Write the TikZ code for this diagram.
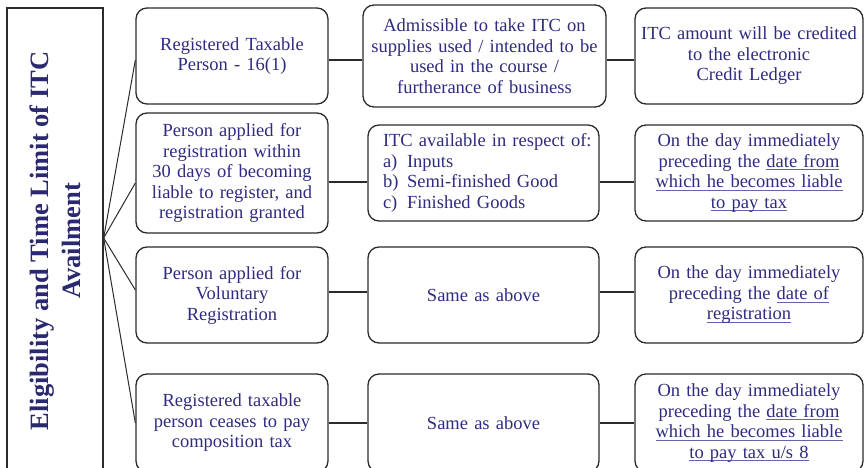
\documentclass[tikz,border=0pt]{standalone}
\usepackage{fontspec}
\setmainfont{Liberation Serif}
\definecolor{txt}{HTML}{2E2B80}
\definecolor{ttl}{HTML}{2A2870}
\definecolor{ulc}{HTML}{6464AA}
\definecolor{edge}{HTML}{2B2B2B}
\newcommand\myul[1]{\setbox0=\hbox{#1}\leavevmode\rlap{\color{ulc}\rule[-3pt]{\wd0}{0.8pt}}\box0}
\newcommand\itm[1]{\hspace*{7.5pt}\makebox[24pt][l]{#1}}
\begin{document}
\begin{tikzpicture}[x=1pt,y=-1pt,
  box/.style={draw=edge,line width=1.3pt,rounded corners=11pt,text=txt,
    font=\fontsize{18.5}{20.5}\selectfont,align=center,inner sep=0pt},
  conn/.style={draw=edge,line width=1.2pt},
  fan/.style={draw=edge,line width=1pt}]
\useasboundingbox (0,0) rectangle (864,468);
% left title box
\node[draw=edge,line width=1.3pt,minimum width=96pt,minimum height=466pt,inner sep=0pt] (left) at (55,241) {};
\node[rotate=90,text=ttl,font=\bfseries\fontsize{26.5}{32}\selectfont,align=center] (title) at (left.center) {Eligibility and Time Limit of ITC\\Availment};
% column 1
\node[box,minimum width=192pt,minimum height=96pt,text width=182pt] (r1c1) at (232,56) {Registered Taxable\\Person - 16(1)};
\node[box,minimum width=192pt,minimum height=120pt,text width=182pt] (r2c1) at (232,173) {Person applied for\\registration within\\30 days of becoming\\liable to register, and\\registration granted};
\node[box,minimum width=192pt,minimum height=96pt,text width=182pt] (r3c1) at (232,295) {Person applied for\\Voluntary\\Registration};
\node[box,minimum width=192pt,minimum height=98pt,text width=182pt] (r4c1) at (232,423) {Registered taxable\\person ceases to pay\\composition tax};
% column 2
\node[box,minimum width=243pt,minimum height=102pt,text width=233pt] (r1c2) at (484.5,56) {Admissible to take ITC on\\supplies used / intended to be\\used in the course /\\furtherance of business};
\node[box,align=left,text width=216pt,minimum width=231pt,minimum height=96pt,inner xsep=7.5pt] (r2c2) at (483.5,173) {\hspace*{7.5pt}\mbox{ITC available in respect of:}\\\itm{a)}Inputs\\\itm{b)}Semi-finished Good\\\itm{c)}Finished Goods};
\node[box,minimum width=231pt,minimum height=96pt,text width=221pt] (r3c2) at (483.5,295) {Same as above};
\node[box,minimum width=231pt,minimum height=98pt,text width=221pt] (r4c2) at (483.5,423) {Same as above};
% column 3
\node[box,minimum width=228pt,minimum height=96pt,text width=218pt] (r1c3) at (749,56) {ITC amount will be credited\\to the electronic\\Credit Ledger};
\node[box,minimum width=228pt,minimum height=96pt,text width=218pt] (r2c3) at (749,173) {On the day immediately\\preceding the \myul{date from}\\\myul{which he becomes liable}\\\myul{to pay tax}};
\node[box,minimum width=228pt,minimum height=96pt,text width=218pt] (r3c3) at (749,295) {On the day immediately\\preceding the \myul{date of}\\\myul{registration}};
\node[box,minimum width=228pt,minimum height=98pt,text width=218pt] (r4c3) at (749,423) {On the day immediately\\preceding the \myul{date from}\\\myul{which he becomes liable}\\\myul{to pay tax u/s 8}};
% horizontal connectors
\draw[conn] ([yshift=-4pt]r1c1.east) -- ([yshift=-4pt]r1c2.west);
\draw[conn] ([yshift=-4pt]r1c2.east) -- ([yshift=-4pt]r1c3.west);
\draw[conn] ([yshift=-9pt]r2c1.east) -- ([yshift=-9pt]r2c2.west);
\draw[conn] ([yshift=-9pt]r2c2.east) -- ([yshift=-9pt]r2c3.west);
\draw[conn] ([yshift=3pt]r3c1.east) -- ([yshift=3pt]r3c2.west);
\draw[conn] ([yshift=3pt]r3c2.east) -- ([yshift=3pt]r3c3.west);
\draw[conn] (r4c1.east) -- (r4c2.west);
\draw[conn] (r4c2.east) -- (r4c3.west);
% fan from title box
\draw[fan] ([yshift=3pt]left.east) -- ([yshift=-4pt]r1c1.west);
\draw[fan] ([yshift=3pt]left.east) -- ([yshift=-10pt]r2c1.west);
\draw[fan] ([yshift=3pt]left.east) -- ([yshift=5pt]r3c1.west);
\draw[fan] ([yshift=3pt]left.east) -- (r4c1.west);
\end{tikzpicture}
\end{document}
